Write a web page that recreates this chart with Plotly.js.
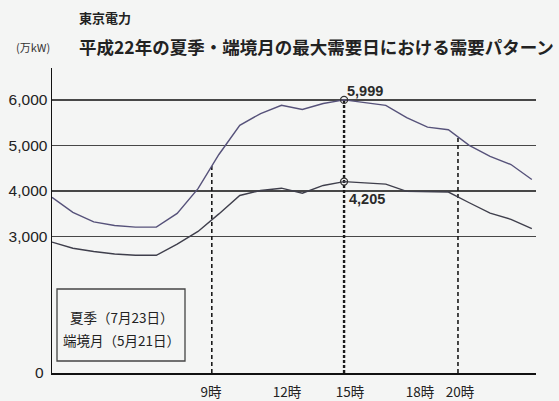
<!DOCTYPE html>
<html>
<head>
<meta charset="utf-8">
<script src="https://cdn.plot.ly/plotly-3.0.1.min.js"></script>
<style>
html,body{margin:0;padding:0;background:#f4f5f4;}
#chart{width:559px;height:401px;}
</style>
</head>
<body>
<div id="chart"></div>
<script>
// ---- data ----
const hours = [1,2,3,4,5,6,7,8,9,10,11,12,13,14,15,16,17,18,19,20,21,22,23,24];
const summerDemand = [3860,3530,3320,3240,3205,3205,3505,4050,4800,5440,5700,5880,5790,5920,5999,5940,5880,5610,5400,5345,5000,4760,4580,4250];
const springDemand = [2875,2740,2670,2615,2585,2585,2830,3110,3495,3900,4010,4060,3950,4120,4205,4180,4150,3990,3980,3975,3740,3510,3375,3170];
const summerName = '夏季（7月23日）';
const springName = '端境月（5月21日）';
const peakHour = 15;
const summerPeak = 5999;
const springPeak = 4205;
const yTickVals = [3000,4000,5000,6000];
const xTickText = ['9時','12時','15時','18時','20時'];
const xTickPos = [8.62,12.27,15.29,18.64,20.56];
const guideHours = [8.66,15,20.46];
const titleLine1 = '東京電力';
const titleLine2 = '平成22年の夏季・端境月の最大需要日における需要パターン';
const unitLabel = '(万kW)';

// ---- layout helpers (pixel -> paper) ----
const L = 52, R = 536, T = 68, B = 373;
const px = x => (x - L) / (R - L);
const py = y => (B - y) / (B - T);

function interp(xs, ys, x) {
  for (let i = 0; i < xs.length - 1; i++) {
    if (x >= xs[i] && x <= xs[i+1]) {
      const t = (x - xs[i]) / (xs[i+1] - xs[i]);
      return ys[i] + t * (ys[i+1] - ys[i]);
    }
  }
  return ys[ys.length-1];
}

const fontJP = '"Noto Sans CJK JP", "Noto Sans", sans-serif';
const fontNum = '"Liberation Sans", Arial, sans-serif';

const traces = [];
// guide dashed lines
guideHours.forEach((g, i) => {
  traces.push({
    x: [g, g], y: [0, interp(hours, summerDemand, g)],
    mode: 'lines', hoverinfo: 'skip', showlegend: false,
    line: {color: '#1a1a1a', width: i === 1 ? 2.4 : 1.6, dash: i === 1 ? '3px,2px' : '4px,3px'}
  });
});
traces.push({
  x: hours, y: summerDemand, name: summerName, mode: 'lines', showlegend: false,
  line: {color: '#56527a', width: 1.4}
});
traces.push({
  x: hours, y: springDemand, name: springName, mode: 'lines', showlegend: false,
  line: {color: '#3f3f4c', width: 1.4}
});
traces.push({
  x: [peakHour, peakHour], y: [summerPeak, springPeak], mode: 'markers', showlegend: false,
  marker: {symbol: 'circle-open', size: 7, color: '#333', line: {width: 1.3, color: '#333'}}
});

const fmt = v => v.toLocaleString('en-US');

const layout = {
  width: 559, height: 401,
  margin: {l: L, r: 559 - R, t: T, b: 401 - B, pad: 0},
  paper_bgcolor: '#f4f5f4', plot_bgcolor: '#f4f5f4',
  showlegend: false,
  xaxis: {
    range: [1, 24.2], showgrid: false, zeroline: false,
    showline: true, linecolor: '#111', linewidth: 1.5,
    tickmode: 'array', tickvals: xTickPos, ticktext: xTickText,
    ticks: '', ticklabelstandoff: 6,
    tickfont: {family: fontJP, size: 13.5, color: '#222'}
  },
  yaxis: {
    range: [0, 6700], showgrid: true, gridcolor: '#474747', gridwidth: 1.5,
    zeroline: false, showline: true, linecolor: '#111', linewidth: 1.5,
    tickmode: 'array', tickvals: yTickVals, ticktext: yTickVals.map(fmt),
    ticks: '', ticklabelstandoff: 0,
    tickfont: {family: fontNum, size: 15.5, color: '#222'}
  },
  shapes: [
    {type: 'rect', xref: 'paper', yref: 'paper', x0: px(57), x1: px(185), y0: py(361), y1: py(289),
     line: {color: '#444', width: 1.3}, fillcolor: 'rgba(0,0,0,0)'}
  ],
  annotations: [
    {xref: 'paper', yref: 'paper', x: px(77), y: py(17.5), xanchor: 'left', yanchor: 'middle', showarrow: false,
     text: '<b>' + titleLine1 + '</b>', font: {family: fontJP, size: 13, color: '#222'}},
    {xref: 'paper', yref: 'paper', x: px(77), y: py(47), xanchor: 'left', yanchor: 'middle', showarrow: false,
     text: '<b>' + titleLine2 + '</b>', font: {family: fontJP, size: 17.5, color: '#222'}},
    {xref: 'paper', yref: 'paper', x: px(14), y: py(47), xanchor: 'left', yanchor: 'middle', showarrow: false,
     text: unitLabel, font: {family: fontJP, size: 11, color: '#333'}},
    {xref: 'paper', yref: 'paper', x: px(39), y: py(372.5), xanchor: 'center', yanchor: 'middle', showarrow: false,
     text: '0', font: {family: fontNum, size: 15.5, color: '#222'}},
    {xref: 'paper', yref: 'paper', x: px(121), y: py(317), xanchor: 'center', yanchor: 'middle', showarrow: false,
     text: summerName, font: {family: fontJP, size: 13.5, color: '#222'}},
    {xref: 'paper', yref: 'paper', x: px(121), y: py(340), xanchor: 'center', yanchor: 'middle', showarrow: false,
     text: springName, font: {family: fontJP, size: 13.5, color: '#222'}},
    {x: peakHour, y: summerPeak, xanchor: 'left', yanchor: 'middle', xshift: 1, yshift: 9, showarrow: false,
     text: '<b>' + fmt(summerPeak) + '</b>', font: {family: fontNum, size: 14.5, color: '#2a2a2a'}},
    {x: peakHour, y: springPeak, xanchor: 'left', yanchor: 'middle', xshift: 3, yshift: -17, showarrow: false,
     text: '<b>' + fmt(springPeak) + '</b>', font: {family: fontNum, size: 14.5, color: '#2a2a2a'}}
  ]
};

Plotly.newPlot('chart', traces, layout, {displayModeBar: false, staticPlot: true});
</script>
</body>
</html>
